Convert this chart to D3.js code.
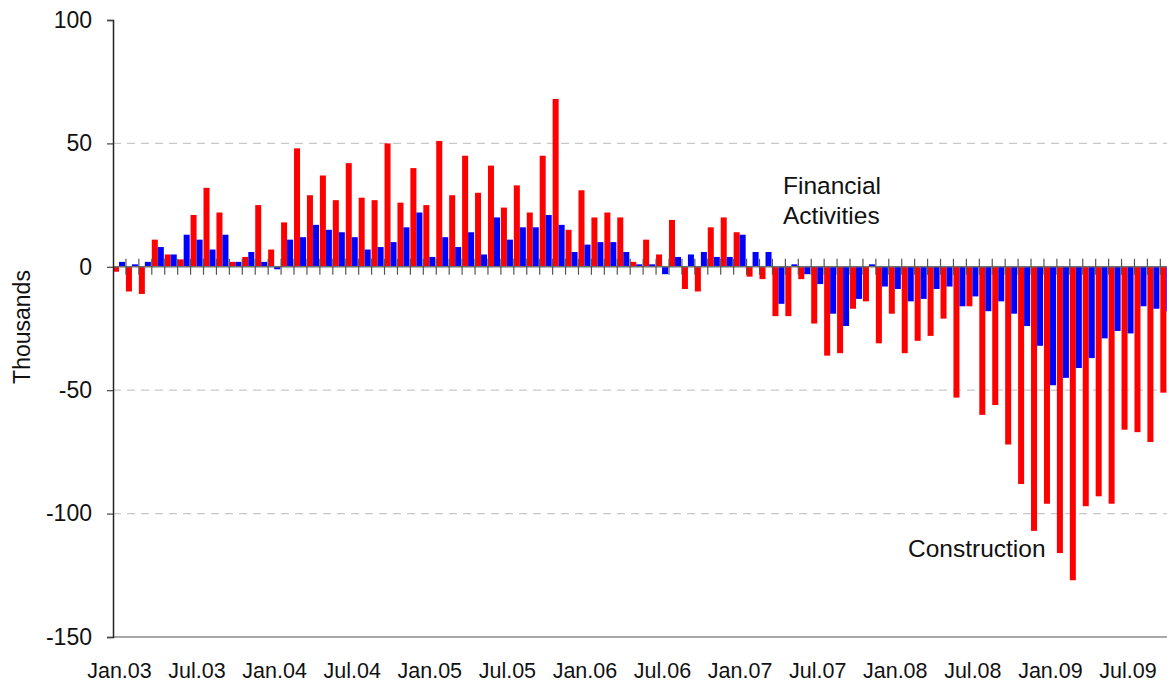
<!DOCTYPE html>
<html>
<head>
<meta charset="utf-8">
<script src="https://cdn.jsdelivr.net/npm/d3@7"></script>
<style>
  body { margin: 0; background: #fff; }
  svg { display: block; font-family: Arial, "Liberation Sans", sans-serif; }
</style>
</head>
<body>
<div id="chart"></div>
<script>
// monthly job changes, thousands (Jan 2003 onwards)
const months = d3.timeMonth.range(new Date(2003, 0, 1), new Date(2009, 10, 1));

const construction = [
  -2, -10, -11, 11, 5, 3, 21, 32, 22, 2, 4, 25, 7, 18, 48,
  29, 37, 27, 42, 28, 27, 50, 26, 40, 25, 51, 29, 45, 30, 41,
  24, 33, 22, 45, 68, 15, 31, 20, 22, 20, 2, 11, 5, 19,
  -9, -10, 16, 20, 14, -4, -5, -20, -20, -5, -23, -36, -35,
  -17, -14, -31, -19, -35, -30, -28, -21, -53, -16, -60, -56,
  -72, -88, -107, -96, -116, -127, -97, -93, -96, -66, -67, -71, -51
];

const financial = [
  2, 1, 2, 8, 5, 13, 11, 7, 13, 2, 6, 2, -1, 11, 12,
  17, 15, 14, 12, 7, 8, 10, 16, 22, 4, 12, 8, 14, 5, 20,
  11, 16, 16, 21, 17, 6, 9, 10, 10, 6, 1, 1, -3, 4,
  5, 6, 4, 4, 13, 6, 6, -15, 1, -3, -7, -19, -24,
  -13, 1, -8, -9, -14, -13, -9, -8, -16, -12, -18, -14,
  -19, -24, -32, -48, -45, -41, -37, -29, -26, -27, -16, -17, -18
];

const seriesNames = ['Construction', 'Financial Activities'];
const seriesColors = ['#ff0000', '#0000ff'];
const yTicks = [100, 50, 0, -50, -100, -150];
const gridTicks = [50, -50, -100];
const tickLabels = ['Jan.03', 'Jul.03', 'Jan.04', 'Jul.04', 'Jan.05', 'Jul.05', 'Jan.06',
  'Jul.06', 'Jan.07', 'Jul.07', 'Jan.08', 'Jul.08', 'Jan.09', 'Jul.09'];

const W = 1167, H = 684;
const plotLeft = 113, plotTop = 20, plotBottom = 637;
const step = 12.93;

let svg = d3.select('#chart').append('svg')
    .attr('width', W)
    .attr('height', H);

let x = d3.scaleBand()
    .domain(d3.range(months.length))
    .range([plotLeft, plotLeft + step * months.length]);

let x1 = d3.scaleBand()
    .domain([0, 1])
    .range([0, x.bandwidth() * 0.93]);

let y = d3.scaleLinear()
    .domain([-150, 100])
    .range([plotBottom, plotTop]);

// dashed grid
svg.append('g')
    .selectAll('line')
    .data(gridTicks)
    .enter()
    .append('line')
    .attr('x1', plotLeft)
    .attr('x2', W)
    .attr('y1', d => y(d))
    .attr('y2', d => y(d))
    .attr('stroke', '#c8c8c8')
    .attr('stroke-width', 1.2)
    .attr('stroke-dasharray', '8,6');

// bars
let rows = months.map((m, i) => ({i: i, vals: [construction[i], financial[i]]}));

let groups = svg.append('g')
    .selectAll('g')
    .data(rows)
    .enter()
    .append('g')
    .attr('transform', d => 'translate(' + x(d.i) + ',0)');

groups.selectAll('rect')
    .data(d => d.vals.map((v, k) => ({k: k, v: v})))
    .enter()
    .append('rect')
    .attr('x', d => x1(d.k))
    .attr('width', x1.bandwidth())
    .attr('y', d => y(Math.max(0, d.v)))
    .attr('height', d => Math.abs(y(d.v) - y(0)))
    .attr('fill', d => seriesColors[d.k]);

// bottom line
svg.append('line')
    .attr('x1', plotLeft)
    .attr('x2', W)
    .attr('y1', y(-150))
    .attr('y2', y(-150))
    .attr('stroke', '#8c8c8c')
    .attr('stroke-width', 1.5);

// zero line with category ticks
svg.append('line')
    .attr('x1', plotLeft)
    .attr('x2', W)
    .attr('y1', y(0))
    .attr('y2', y(0))
    .attr('stroke', '#707070')
    .attr('stroke-width', 1.6);

svg.append('g')
    .selectAll('line')
    .data(d3.range(1, months.length + 1))
    .enter()
    .append('line')
    .attr('x1', d => plotLeft + d * x.step())
    .attr('x2', d => plotLeft + d * x.step())
    .attr('y1', y(0) - 8)
    .attr('y2', y(0) + 8)
    .attr('stroke', '#555')
    .attr('stroke-width', 1.2);

// y axis
let yAxis = svg.append('g')
    .attr('transform', 'translate(' + plotLeft + ',0)')
    .call(d3.axisLeft(y).tickValues(yTicks).tickSize(6).tickPadding(15)
        .tickFormat(d => String(d)));

yAxis.select('.domain').attr('stroke', '#222').attr('stroke-width', 1.5);
yAxis.selectAll('.tick line').attr('stroke', '#444').attr('stroke-width', 1.2);
yAxis.selectAll('.tick text')
    .style('font-size', '23px')
    .attr('fill', '#111')
    .style('font-family', 'Arial, "Liberation Sans", sans-serif');

svg.append('text')
    .attr('transform', 'translate(30,' + 327 + ') rotate(-90)')
    .attr('text-anchor', 'middle')
    .style('font-size', '23px')
    .attr('fill', '#111')
    .text('Thousands');

// month labels every six months
svg.append('g')
    .selectAll('text')
    .data(tickLabels)
    .enter()
    .append('text')
    .attr('x', (d, i) => x(i * 6) + x.bandwidth() / 2)
    .attr('y', 678)
    .attr('text-anchor', 'middle')
    .style('font-size', '21.5px')
    .attr('fill', '#111')
    .text(d => d);

// series annotations
svg.append('text')
    .attr('x', 783)
    .attr('y', 194)
    .style('font-size', '24.5px')
    .attr('fill', '#111')
    .selectAll('tspan')
    .data(seriesNames[1].split(' '))
    .enter()
    .append('tspan')
    .attr('x', 783)
    .attr('dy', (d, i) => i ? 30 : 0)
    .text(d => d);

svg.append('text')
    .attr('x', 908)
    .attr('y', 557)
    .style('font-size', '24.5px')
    .attr('fill', '#111')
    .text(seriesNames[0]);
</script>
</body>
</html>
